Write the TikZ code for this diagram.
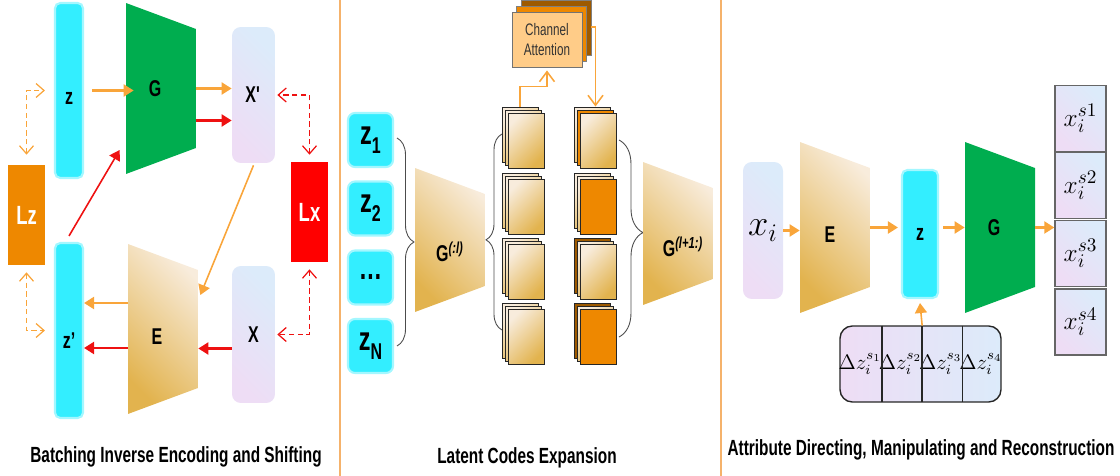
\documentclass[tikz,border=0pt]{standalone}
\usepackage{fontspec}
\usepackage{tikz}
\usetikzlibrary{arrows.meta,decorations.pathreplacing,calc}
\newfontfamily\narrow[FakeStretch=0.7]{Liberation Sans}
\definecolor{zcyan}{HTML}{33EEFF}
\definecolor{gnet}{HTML}{00AD4F}
\definecolor{tanD}{HTML}{E2B34E}
\definecolor{tanL}{HTML}{F8ECDC}
\definecolor{lzor}{HTML}{EE8800}
\definecolor{lxred}{HTML}{FF0000}
\definecolor{arrO}{HTML}{F9A53A}
\definecolor{arrR}{HTML}{EE1111}
\definecolor{lavB}{HTML}{DCEBFA}
\definecolor{lavP}{HTML}{EEDDF5}
\definecolor{caor}{HTML}{FFCC88}
\definecolor{brn}{HTML}{9E5A00}
\definecolor{sep}{HTML}{F5B26B}
\newcommand\trappath{(path picture bounding box.north west) -- ([yshift=-0.52cm]path picture bounding box.north east) -- ([yshift=0.52cm]path picture bounding box.south east) -- (path picture bounding box.south west) -- cycle}
\newcommand\zsub[1]{z\raisebox{-0.28em}{\fontsize{13}{13}\selectfont#1}}
\tikzset{
  lab/.style={font=\narrow\bfseries\fontsize{13}{13}\selectfont},
  tansh/.style={top color=tanL, bottom color=tanD, shading angle=-45},
  lavsh/.style={top color=lavB, bottom color=lavP, shading angle=-45},
  zbar/.style={fill=zcyan, draw=zcyan!45, line width=1.2pt, rounded corners=3pt, minimum width=0.56cm, inner sep=0, lab},
  lav/.style={rounded corners=5pt, lavsh, minimum width=0.86cm, inner sep=0, lab},
  lossbox/.style={minimum width=0.74cm, minimum height=2cm, inner sep=0, text=white, font=\narrow\bfseries\fontsize{15}{15}\selectfont},
  trapbox/.style={minimum width=1.4cm, inner sep=0, lab},
  gtrap/.style={trapbox, path picture={\fill[gnet] \trappath;}},
  etrap/.style={trapbox, path picture={\shade[tansh] \trappath;}},
  oarr/.style={draw=arrO, line width=1.2pt, -{Triangle[length=0.2cm,width=0.24cm]}},
  rarr/.style={draw=arrR, line width=1.2pt, -{Triangle[length=0.2cm,width=0.24cm]}},
  oline/.style={draw=arrO, line width=0.9pt, -{Straight Barb[length=0.2cm,width=0.3cm]}},
  odash/.style={draw=arrO, line width=0.7pt, dash pattern=on 3pt off 2pt, {Straight Barb[length=0.16cm,width=0.28cm]}-{Straight Barb[length=0.16cm,width=0.28cm]}},
  rdash/.style={draw=arrR, line width=0.7pt, dash pattern=on 3pt off 2pt, {Straight Barb[length=0.16cm,width=0.28cm]}-{Straight Barb[length=0.16cm,width=0.28cm]}},
  sheet/.style={draw=black!85, line width=0.5pt, minimum width=0.72cm, minimum height=1.1cm, inner sep=0},
  tansheet/.style={top color=tanL, bottom color=tanD, shading angle=45},
  orsheet/.style={fill=lzor},
  brsheet/.style={fill=brn},
  zbox/.style={fill=zcyan, draw=zcyan!45, line width=1.2pt, rounded corners=4pt, minimum width=0.9cm, minimum height=1.08cm, inner sep=0, font=\narrow\bfseries\fontsize{19}{19}\selectfont},
  outbox/.style={draw=black!60, line width=0.8pt, lavsh, minimum width=1.02cm, minimum height=1.32cm, inner sep=0, font=\fontsize{15}{15}\selectfont},
  dcell/.style={minimum width=0.8cm, minimum height=1.52cm, inner sep=0, font=\fontsize{11.5}{11.5}\selectfont},
  ttl/.style={font=\narrow\bfseries\fontsize{12.5}{14}\selectfont},
  brc/.style={draw=black!70, line width=0.5pt, decorate, decoration={brace, amplitude=#1}},
}
\begin{document}
\begin{tikzpicture}[x=0.02cm,y=-0.02cm]
\useasboundingbox (0,0) rectangle (1120,476);
\draw[sep, line width=0.8pt] (340,0) -- (340,476);
\draw[sep, line width=0.8pt] (721,0) -- (721,476);

% batching inverse encoding and shifting
\node[zbar, minimum height=3.5cm, label={[lab,yshift=-0.15cm]center:z}] (z) at (69,90.5) {};
\node[gtrap, minimum height=3.42cm, label={[lab,xshift=-0.12cm]center:G}] (G1) at (161,88.5) {};
\node[lav, minimum height=2.72cm] (xp) at (253.5,95) {X\textquotesingle};
\node[lossbox, fill=lzor] (Lz) at (26.5,215) {Lz};
\node[zbar, minimum height=3.5cm, label={[lab,yshift=-0.2cm]center:z’}] (zp) at (69,330.5) {};
\node[etrap, minimum height=3.4cm, label={[lab,xshift=-0.12cm,yshift=-0.16cm]center:E}] (E1) at (163,329) {};
\node[lav, minimum height=2.74cm] (X) at (253.5,334.5) {X};
\node[lossbox, fill=lxred] (Lx) at (309.5,212) {Lx};
\draw[oarr] ([xshift=0.16cm]z.east) -- ([xshift=0.16cm]z.east -| G1.west);
\draw[oarr] (G1.east) -- (G1.east -| xp.west);
\draw[rarr] ([yshift=-0.64cm]G1.east) -- ([yshift=-0.64cm]G1.east -| xp.west);
\draw[rarr, line width=0.9pt] ([yshift=0.12cm]zp.north) -- ([xshift=-0.12cm,yshift=-1.23cm]G1.west);
\draw[oarr, line width=0.9pt] ([yshift=-0.04cm]xp.south) -- ([xshift=0.04cm,yshift=0.68cm]E1.east);
\draw[oarr] ([yshift=0.52cm]E1.west) -- ([yshift=0.52cm]E1.west -| zp.east);
\draw[rarr] ([yshift=-0.38cm]E1.west) -- ([yshift=-0.38cm]E1.west -| zp.east);
\draw[rarr] ([yshift=-0.28cm]X.west) -- ([yshift=-0.28cm]X.west -| E1.east);
\draw[odash] ([yshift=0.2cm]Lz.north) |- ([xshift=-0.18cm]z.west);
\draw[odash] ([yshift=-0.14cm]Lz.south) |- ([xshift=-0.18cm]zp.west);
\draw[rdash] ([yshift=0.14cm]Lx.north) |- ([xshift=0.04cm]xp.east);
\draw[rdash] ([yshift=-0.14cm]Lx.south) |- ([xshift=0.04cm]X.east);
\node[ttl] (t1) at (176,457) {Batching Inverse Encoding and Shifting};

% latent codes expansion
\foreach \n/\y/\t in {1/140/\zsub{1}, 2/208.5/\zsub{2}, 3/277.5/\textellipsis, 4/346/\zsub{N}}
  \node[zbox] (zz\n) at (370.5,\y) {\t};
\node[etrap, minimum height=2.88cm, label={[lab,yshift=-0.24cm]center:G\textsuperscript{\itshape(:l)}}] (Gl) at (450,240) {};
\draw[brc=0.34cm] (397,138) -- (397,346);
\draw[brc=0.32cm, decoration={aspect=0.46}] (502,330) -- (502,134);
\draw[brc=0.48cm, decoration={aspect=0.47}] (619,140) -- (619,337);
\foreach \k/\y in {1/107,2/173,3/238,4/303}
  \foreach \j in {0,1,2}
    \node[sheet,tansheet] (a\k\j) at (520+3*\j,\y+27.5+3*\j) {};
\foreach \k/\y/\ca/\cb/\cc in {1/107/tansheet/orsheet/tansheet, 2/173/tansheet/tansheet/orsheet, 3/238/brsheet/tansheet/tansheet, 4/303/brsheet/tansheet/orsheet} {
  \node[sheet,\ca] (b\k0) at (592,\y+27.5) {};
  \node[sheet,\cb] (b\k1) at (595,\y+30.5) {};
  \node[sheet,\cc] (b\k2) at (598,\y+33.5) {};
}
\node[sheet, fill=brn, draw=black!50, minimum width=1.4cm] (ca2) at (556,27.5) {};
\node[sheet, fill=lzor, draw=black!50, minimum width=1.4cm] (ca1) at (551.5,33.5) {};
\node[sheet, fill=caor, draw=black!55, minimum width=1.4cm, font=\narrow\fontsize{9.5}{11.5}\selectfont, text=black!80, align=center] (ca) at (547,39.5) {Channel\\Attention};
\draw[oline] ([xshift=-0.12cm,yshift=0.12cm]a12.north) -- ++(0,0.4cm) -| ([yshift=-0.06cm]ca.south);
\draw[oline] ([xshift=0.18cm,yshift=0.25cm]ca.east) -| ([xshift=-0.05cm,yshift=0.12cm]b12.north);
\node[etrap, minimum height=2.86cm, label={[lab,xshift=0.1cm,yshift=-0.27cm]center:G\textsuperscript{\itshape(l+1:)}}] (Gr) at (678,233.5) {};
\node[ttl] (t2) at (527,458) {Latent Codes Expansion};

% attribute directing, manipulating and reconstruction
\node[lav, minimum width=0.8cm, minimum height=2.74cm, font=\fontsize{20}{20}\selectfont] (xi) at (763,230.5) {$x_i$};
\node[etrap, minimum height=3.42cm, label={[lab,xshift=-0.1cm,yshift=-0.15cm]center:E}] (E3) at (835,227.5) {};
\node[zbar, minimum width=0.72cm, minimum height=2.56cm] (z3) at (920,234) {z};
\node[gtrap, minimum height=3.42cm, label={[lab,xshift=-0.12cm]center:G}] (G3) at (1000,227.5) {};
\foreach \n/\y in {1/118.5,2/185.5,3/253.5,4/322}
  \node[outbox] (o\n) at (1080.5,\y) {$x_i^{s\n}$};
\node[draw=black!85, line width=0.8pt, rounded corners=7pt, left color=lavP, right color=lavB, minimum width=3.22cm, minimum height=1.52cm] (dz) at (920.5,364) {};
\foreach \n/\x in {1/860.1,2/900.4,3/940.6,4/980.9}
  \node[dcell] (d\n) at (\x,364) {$\Delta z_i^{s_\n}$};
\foreach \n in {1,2,3}
  \draw[black!85, line width=0.8pt] (d\n.north east) -- (d\n.south east);
\draw[oarr] (xi.east) -- (xi.east -| E3.west);
\draw[oarr] (E3.east) -- ([xshift=-0.06cm]E3.east -| z3.west);
\draw[oarr] ([xshift=0.08cm]z3.east |- G3.west) -- (G3.west);
\draw[oarr] (G3.east) -- (G3.east -| o3.west);
\draw[oarr, line width=0.9pt] (d2.north east) -- ([yshift=-0.08cm]z3.south);
\node[ttl] (t3) at (921,450) {Attribute Directing, Manipulating and Reconstruction};
\end{tikzpicture}
\end{document}
